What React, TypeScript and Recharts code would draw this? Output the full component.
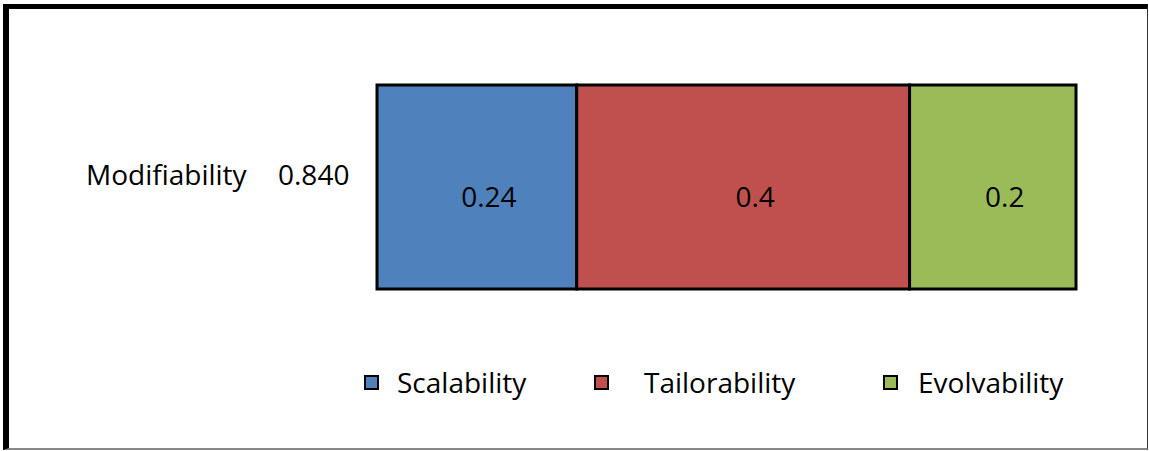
import { Bar, BarChart, LabelList, Legend, XAxis, YAxis } from "recharts";

const categories = ["Modifiability"];
const totals = [0.84];
const seriesNames = ["Scalability", "Tailorability", "Evolvability"];
const scalability = [0.24];
const tailorability = [0.4];
const evolvability = [0.2];

const data = categories.map((name, i) => ({
  name,
  total: totals[i],
  Scalability: scalability[i],
  Tailorability: tailorability[i],
  Evolvability: evolvability[i],
}));

const FONT = "'Open Sans', sans-serif";
const legendLeft = [364, 594, 883];
const legendTextGap = [18, 35, 20];

const CategoryTick = (props: any) => {
  const { y, payload, index } = props;
  const total = totals[index] ?? totals[0];
  return (
    <g>
      <text x={86} y={y - 2} fontFamily={FONT} fontSize={28} fill="#000">
        {payload.value}
      </text>
      <text x={278} y={y - 2} fontFamily={FONT} fontSize={28} fill="#000">
        {total.toFixed(3)}
      </text>
    </g>
  );
};

const BarLabel = (props: any) => {
  const { x, y, width, height, value } = props;
  return (
    <text
      x={x + width / 2 + 12}
      y={y + height / 2 + 20}
      textAnchor="middle"
      fontFamily={FONT}
      fontSize={28}
      fill="#000"
    >
      {value}
    </text>
  );
};

const LegendContent = (props: any) => {
  const items = [...(props.payload || [])].sort(
    (a: any, b: any) => seriesNames.indexOf(a.value) - seriesNames.indexOf(b.value)
  );
  return (
    <div>
      {items.map((entry: any, i: number) => (
        <div
          key={entry.value}
          style={{
            position: "absolute",
            left: legendLeft[i],
            top: 363,
            display: "flex",
            alignItems: "center",
            height: 38,
          }}
        >
          <span
            style={{
              display: "inline-block",
              width: 11,
              height: 11,
              background: entry.color,
              border: "2px solid #000",
              marginTop: 1,
            }}
          />
          <span
            style={{
              marginLeft: legendTextGap[i],
              fontFamily: FONT,
              fontSize: 28,
              lineHeight: "38px",
              color: "#000",
              whiteSpace: "nowrap",
            }}
          >
            {entry.value}
          </span>
        </div>
      ))}
    </div>
  );
};

const App = () => {
  return (
    <div style={{ position: "absolute", left: 0, top: 0, width: 1149, height: 451, background: "#fff" }}>
      <div
        style={{
          position: "absolute",
          left: 3,
          top: 4,
          width: 1138,
          height: 439,
          borderTop: "5px solid #000",
          borderLeft: "6px solid #000",
          borderRight: "1px solid #333",
          borderBottom: "2px solid #888",
        }}
      />
      <div style={{ position: "absolute", left: 0, top: 0 }}>
        <BarChart
          width={1149}
          height={451}
          data={data}
          layout="vertical"
          barCategoryGap={0}
          margin={{ top: 85, right: 73, bottom: 162, left: 77 }}
        >
          <XAxis type="number" domain={[0, 0.84]} hide />
          <YAxis
            type="category"
            dataKey="name"
            width={300}
            axisLine={false}
            tickLine={false}
            tick={<CategoryTick />}
          />
          <Legend
            verticalAlign="middle"
            align="center"
            layout="horizontal"
            wrapperStyle={{ top: 0, left: 0, width: 1149, height: 0 }}
            content={<LegendContent />}
          />
          <Bar dataKey="Scalability" stackId="a" fill="#4F81BD" stroke="#000" strokeWidth={3} isAnimationActive={false}>
            <LabelList dataKey="Scalability" content={<BarLabel />} />
          </Bar>
          <Bar dataKey="Tailorability" stackId="a" fill="#C0504D" stroke="#000" strokeWidth={3} isAnimationActive={false}>
            <LabelList dataKey="Tailorability" content={<BarLabel />} />
          </Bar>
          <Bar dataKey="Evolvability" stackId="a" fill="#9BBB59" stroke="#000" strokeWidth={3} isAnimationActive={false}>
            <LabelList dataKey="Evolvability" content={<BarLabel />} />
          </Bar>
        </BarChart>
      </div>
    </div>
  );
};

export default App;
